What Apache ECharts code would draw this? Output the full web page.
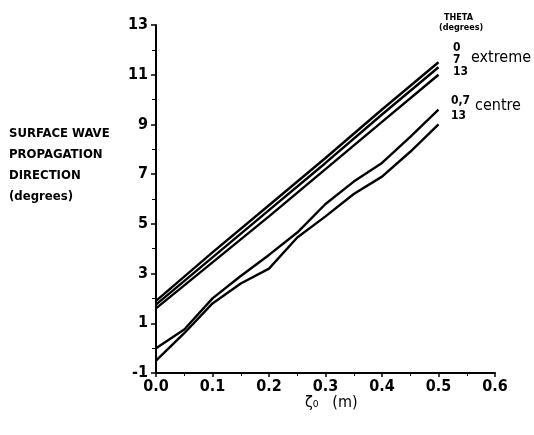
<!DOCTYPE html>
<html>
<head>
<meta charset="utf-8">
<script src="https://cdn.jsdelivr.net/npm/echarts@6/dist/echarts.min.js"></script>
<style>html,body{margin:0;padding:0;background:#fff}#c{width:534px;height:435px}</style>
</head>
<body>
<div id="c"></div>
<script>
var xExtreme = [0, 0.1, 0.2, 0.3, 0.4, 0.5];
var extreme0 = [1.9, 3.85, 5.75, 7.65, 9.6, 11.5];
var extreme7 = [1.75, 3.65, 5.55, 7.45, 9.4, 11.3];
var extreme13 = [1.6, 3.45, 5.3, 7.2, 9.1, 11.0];
var xCentre = [0, 0.05, 0.1, 0.15, 0.2, 0.25, 0.3, 0.35, 0.4, 0.45, 0.5];
var centre07 = [0.0, 0.75, 2.0, 2.9, 3.75, 4.65, 5.8, 6.7, 7.45, 8.5, 9.6];
var centre13 = [-0.5, 0.6, 1.8, 2.6, 3.2, 4.45, 5.3, 6.2, 6.9, 7.9, 9.0];
var xTicks = [0, 0.1, 0.2, 0.3, 0.4, 0.5, 0.6];
var yTicks = [-1, 1, 3, 5, 7, 9, 11, 13];

function pairs(xs, ys){ return xs.map(function(x,i){ return [x, ys[i]]; }); }
var F = '"DejaVu Sans Condensed","Liberation Sans Narrow",sans-serif';
function mk(xs, ys){
  return {type:'line', data:pairs(xs, ys), showSymbol:false, symbol:'none',
    lineStyle:{color:'#000', width:2.4}, silent:true, animation:false};
}
var chart = echarts.init(document.getElementById('c'));
chart.setOption({
  animation:false,
  grid:{left:156, right:39, top:25, bottom:62},
  xAxis:{type:'value', min:0, max:0.6, interval:0.1,
    axisLine:{onZero:false, lineStyle:{color:'#000', width:2}},
    axisTick:{length:4, lineStyle:{color:'#000', width:1.5}},
    minorTick:{show:true, splitNumber:2, length:3, lineStyle:{color:'#000'}},
    splitLine:{show:false},
    axisLabel:{color:'#000', fontFamily:F, fontSize:16, fontWeight:'bold', margin:6,
      formatter:function(v){ return v.toFixed(1); }}
  },
  yAxis:{type:'value', min:-1, max:13, interval:2,
    axisLine:{show:true, onZero:false, lineStyle:{color:'#000', width:2}},
    axisTick:{show:true, length:5, lineStyle:{color:'#000', width:1.5}},
    minorTick:{show:true, splitNumber:2, length:4, lineStyle:{color:'#000'}},
    splitLine:{show:false},
    axisLabel:{color:'#000', fontFamily:F, fontSize:16, fontWeight:'bold', margin:8}
  },
  graphic:[
    {type:'text', left:9, top:123, style:{text:'SURFACE WAVE\nPROPAGATION\nDIRECTION\n(degrees)', fill:'#000', font:'bold 13px '+F, lineHeight:21}},
    {type:'text', left:305, top:395, style:{text:'ζ₀   (m)', fill:'#000', font:'16px '+F}},
    {type:'text', left:444, top:13, style:{text:'THETA', fill:'#000', font:'bold 9px '+F}},
    {type:'text', left:439, top:23, style:{text:'(degrees)', fill:'#000', font:'bold 9px '+F}},
    {type:'text', left:453, top:42, style:{text:'0\n7\n13', fill:'#000', font:'bold 12px '+F, lineHeight:12}},
    {type:'text', left:471, top:50, style:{text:'extreme', fill:'#000', font:'16px '+F}},
    {type:'text', left:451, top:93, style:{text:'0,7\n13', fill:'#000', font:'bold 12px '+F, lineHeight:15}},
    {type:'text', left:475, top:98, style:{text:'centre', fill:'#000', font:'16px '+F}}
  ],
  series:[
    mk(xExtreme, extreme0), mk(xExtreme, extreme7), mk(xExtreme, extreme13),
    mk(xCentre, centre07), mk(xCentre, centre13)
  ]
});
</script>
</body>
</html>
